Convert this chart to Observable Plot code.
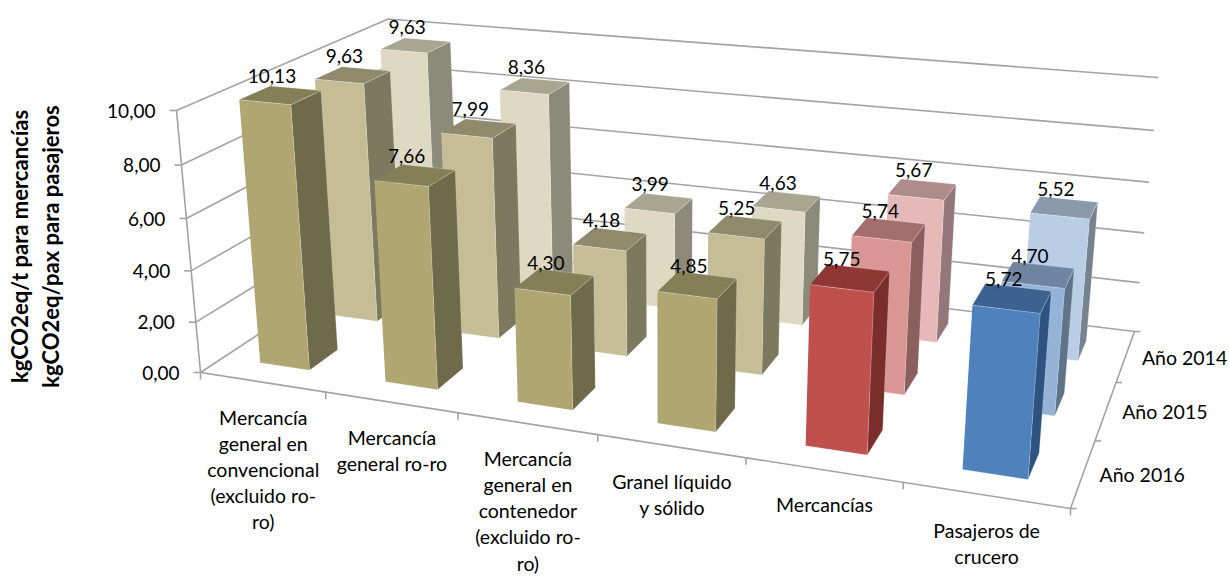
<!DOCTYPE html>
<html><head><meta charset="utf-8">
<script src="https://cdn.jsdelivr.net/npm/d3@7"></script>
<script src="https://cdn.jsdelivr.net/npm/@observablehq/plot@0.6"></script>
<style>html,body{margin:0;padding:0;background:#fff;overflow:hidden}svg{display:block}</style>
</head><body><div id="chart"></div>
<script>
const categories = ["Mercancía\ngeneral en\nconvencional\n(excluido ro-\nro)","Mercancía\ngeneral ro-ro","Mercancía\ngeneral en\ncontenedor\n(excluido ro-\nro)","Granel líquido\ny sólido","Mercancías","Pasajeros de\ncrucero"];
const years = ["Año 2016","Año 2015","Año 2014"];
const values2016 = [10.13,7.66,4.30,4.85,5.75,5.72];
const values2015 = [9.63,7.99,4.18,5.25,5.74,4.70];
const values2014 = [9.63,8.36,3.99,4.63,5.67,5.52];
const series = [values2016,values2015,values2014];
const valueTicks = [0,2,4,6,8,10];
const axisTitle = "kgCO2eq/t para mercancías\nkgCO2eq/pax para pasajeros";
// face colours by family (tan, red, blue), row (2016,2015,2014): front, side, top
const tan = [["#B0A672","#6F6A49","#857F57"],["#C4BD96","#7D795E","#8F8A6B"],["#DDD9C3","#8C8A79","#A8A691"]];
const red = [["#C0504D","#7A2E2C","#8F3734"],["#D99694","#8A5F5E","#A36E6D"],["#E6B9B8","#93777A","#AF8C8C"]];
const blue = [["#4F81BD","#2F5380","#3C6291"],["#95B3D7","#5F7389","#6F86A3"],["#B9CDE5","#76838F","#8A9AAD"]];
const families = [tan,tan,tan,tan,red,blue];

// perspective camera: image of the plot box corners
const cam = {O:[200,372],A:[1070,508],B:[399,241],D:[1134,331],C:[176,110],F:[1157,81]};
const det=(a,b,c)=>a[0]*(b[1]*c[2]-b[2]*c[1])-a[1]*(b[0]*c[2]-b[2]*c[0])+a[2]*(b[0]*c[1]-b[1]*c[0]);
const cross=(a,b)=>[a[1]*b[2]-a[2]*b[1],a[2]*b[0]-a[0]*b[2],a[0]*b[1]-a[1]*b[0]];
const h=p=>[p[0],p[1],1];
const [O,A,B,D,C,F]=["O","A","B","D","C","F"].map(k=>h(cam[k]));
const nD=D.map(x=>-x), dd=det(A,B,nD);
const wa=det(O,B,nD)/dd, wb=det(A,O,nD)/dd;
const V0=cross(cross(O,C),cross(D,F)), Vy=V0[1]/V0[2];
const al=(Vy-O[1])/(C[1]-O[1]), wc=-al/(1-al);
const cu=A.map((x,i)=>wa*x-O[i]), cd=B.map((x,i)=>wb*x-O[i]), cv=C.map((x,i)=>wc*x-O[i]);
function project(u,d,v){ // u category units, d row units, v value units
  const q=[0,1,2].map(i=>cu[i]*u/6+cd[i]*d/3+cv[i]*v/10+O[i]);
  return [q[0]/q[2],q[1]/q[2]];
}
const gapU=0.30, gapD=0.30;
const faces=[], labels=[];
series.map((vals,r)=>({vals,r})).reverse().forEach(({vals,r})=>{
  vals.forEach((v,i)=>{
    const u0=i+gapU,u1=i+1-gapU,d0=r+gapD,d1=r+1-gapD;
    const [fF,fS,fT]=families[i][r];
    const add=(fill,pts)=>{const id=faces.length?faces[faces.length-1].id+1:0;pts.forEach(p=>{const [x,y]=project(...p);faces.push({id,fill,x,y});});};
    add(fS,[[u1,d0,0],[u1,d1,0],[u1,d1,v],[u1,d0,v]]);
    add(fT,[[u0,d0,v],[u1,d0,v],[u1,d1,v],[u0,d1,v]]);
    add(fF,[[u0,d0,0],[u1,d0,0],[u1,d0,v],[u0,d0,v]]);
    const [x,y]=project(i+.5,r+.5,v);
    labels.push({x:x-8.5,y:y-18,t:v.toFixed(2).replace(".",",")});
  });
});
const wall=[];
valueTicks.forEach(v=>{[[0,0],[0,3],[6,3]].forEach(([u,d])=>{const [x,y]=project(u,d,v);wall.push({k:v,x,y});});});
const frame=[];
[[0,0,10],[0,0,0],[6,0,0],[6,3,0]].forEach(p=>{const [x,y]=project(...p);frame.push({x,y});});
const ticks=[];
valueTicks.forEach(v=>{const [x,y]=project(0,0,v);ticks.push({x1:x,y1:y,x2:x-7,y2:y});});
d3.range(7).forEach(u=>{const [x,y]=project(u,0,0);ticks.push({x1:x,y1:y,x2:x,y2:y+7});});
d3.range(4).forEach(d=>{const [x,y]=project(6,d,0);ticks.push({x1:x,y1:y,x2:x+6,y2:y});});
const vLabels=valueTicks.map(v=>{const [x,y]=project(0,0,v);return {x:x-21,y:y+1,t:v.toFixed(2).replace(".",",")};});
const cLabels=categories.map((t,i)=>{const [x,y]=project(i+.5,0,0);return {x:x+1,y:y+24,t};});
const yLabels=years.map((t,d)=>{const [x,y]=project(6,d+.5,0);return {x:x+59,y:y+2.5,t};});
const font="Lato, 'Open Sans', sans-serif", gc="#a3a3a3";
const plot=Plot.plot({width:1229,height:577,margin:0,style:{background:"#fff",fontFamily:font},
  x:{type:"linear",domain:[0,1229],range:[0,1229],axis:null},
  y:{type:"linear",domain:[0,577],range:[0,577],axis:null},
  color:{type:"identity"},
  marks:[
    Plot.line(wall,{x:"x",y:"y",z:"k",stroke:gc,strokeWidth:1.6}),
    Plot.line(frame,{x:"x",y:"y",stroke:gc,strokeWidth:1.6}),
    Plot.link(ticks,{x1:"x1",y1:"y1",x2:"x2",y2:"y2",stroke:gc,strokeWidth:1.6}),
    Plot.line(faces,{x:"x",y:"y",z:"id",fill:"fill",stroke:"#fff",strokeOpacity:0.22,strokeWidth:1}),
    Plot.text(labels,{x:"x",y:"y",text:"t",fontSize:19,fill:"#000"}),
    Plot.text(vLabels,{x:"x",y:"y",text:"t",fontSize:19,textAnchor:"end",fill:"#000"}),
    Plot.text(cLabels,{x:"x",y:"y",text:"t",fontSize:19.5,lineHeight:1.34,lineAnchor:"top",fill:"#000"}),
    Plot.text(yLabels,{x:"x",y:"y",text:"t",fontSize:19.5,fill:"#000"}),
    Plot.text([axisTitle],{x:()=>33,y:()=>246,text:d=>d,rotate:-90,fontSize:22,fontWeight:"bold",lineHeight:1.4,fill:"#000"})
  ]});
document.getElementById("chart").append(plot);
</script></body></html>
